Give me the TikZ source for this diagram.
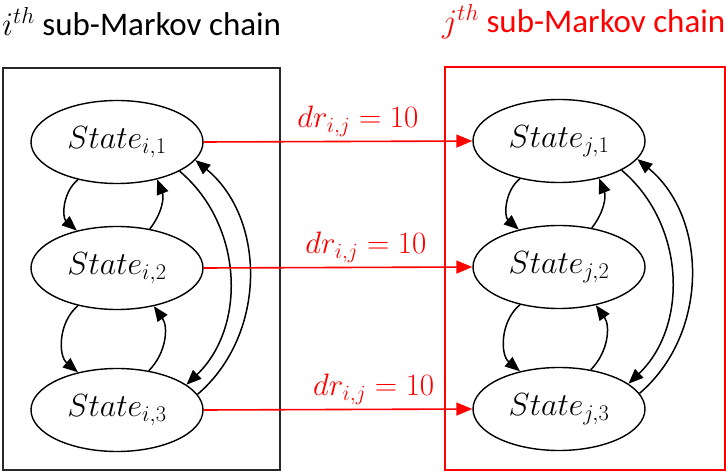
\documentclass[tikz,border=0pt]{standalone}
\usepackage{fix-cm}
\usepackage{fontspec}
\setmainfont{Carlito}
\usepackage{tikz}
\usetikzlibrary{arrows.meta,positioning,calc,shapes.geometric}
\definecolor{chainred}{RGB}{255,0,0}
\definecolor{boxgray}{RGB}{40,40,40}

\begin{document}
\begin{tikzpicture}[x=1pt, y=-1pt,
    >={Triangle[length=15pt,width=12pt]},
    state/.style={ellipse, draw=black, line width=1.4pt, minimum width=172pt,
      minimum height=83pt, inner sep=0pt, font=\fontsize{32}{36}\selectfont},
    trans/.style={->, black, line width=1.5pt},
    jump/.style={-{Triangle[length=16pt,width=13pt]}, chainred, line width=1.6pt},
    rate/.style={above=1pt, text=chainred, font=\fontsize{31}{34}\selectfont},
    title/.style={anchor=west, inner sep=2pt, font=\fontsize{33}{36}\selectfont}]
    \useasboundingbox (0,0) rectangle (726,473);
    % --- Titles ---
    \node[title] (titlei) at (0,22) {$i^{th}$ sub-Markov chain};
    \node[title, text=chainred] (titlej) at (440,22) {$j^{th}$ sub-Markov chain};
    % --- Boxes round the two chains ---
    \draw[boxgray, line width=1.4pt] (3,68) rectangle (280,470);
    \draw[chainred, line width=1.4pt] (445,67) rectangle (725,470);
    % --- States ---
    \node[state] (si1) at (117,142) {$State_{i,1}$};
    \node[state] (si2) at (117,268) {$State_{i,2}$};
    \node[state] (si3) at (117,410) {$State_{i,3}$};
    \node[state] (sj1) at (559,141) {$State_{j,1}$};
    \node[state] (sj2) at (559,267) {$State_{j,2}$};
    \node[state] (sj3) at (559,409) {$State_{j,3}$};
    % --- Transitions inside the i-th chain ---
    \draw[trans] (si1.224) to[bend right=50] (si2.137);
    \draw[trans] (si2.50) to[bend right=30] (si1.317);
    \draw[trans] (si2.224) to[bend right=50] (si3.136);
    \draw[trans] (si3.51) to[bend right=40] (si2.314);
    \draw[trans] (si1.335) to[bend left=48] (si3.20);
    \draw[trans] (si3.11) to[bend right=50] (si1.347);
    % --- Transitions inside the j-th chain ---
    \draw[trans] (sj1.224) to[bend right=50] (sj2.137);
    \draw[trans] (sj2.50) to[bend right=30] (sj1.317);
    \draw[trans] (sj2.224) to[bend right=50] (sj3.136);
    \draw[trans] (sj3.51) to[bend right=40] (sj2.314);
    \draw[trans] (sj1.335) to[bend left=48] (sj3.20);
    \draw[trans] (sj3.11) to[bend right=50] (sj1.347);
    % --- Jumps from chain i to chain j ---
    \draw[jump] (si1.east) -- (sj1.west) node[rate, pos=0.574] (r1) {$dr_{i,j}=10$};
    \draw[jump] (si2.east) -- (sj2.west) node[rate, pos=0.604] (r2) {$dr_{i,j}=10$};
    \draw[jump] (si3.east) -- (sj3.west) node[rate, pos=0.633] (r3) {$dr_{i,j}=10$};
\end{tikzpicture}
\end{document}
